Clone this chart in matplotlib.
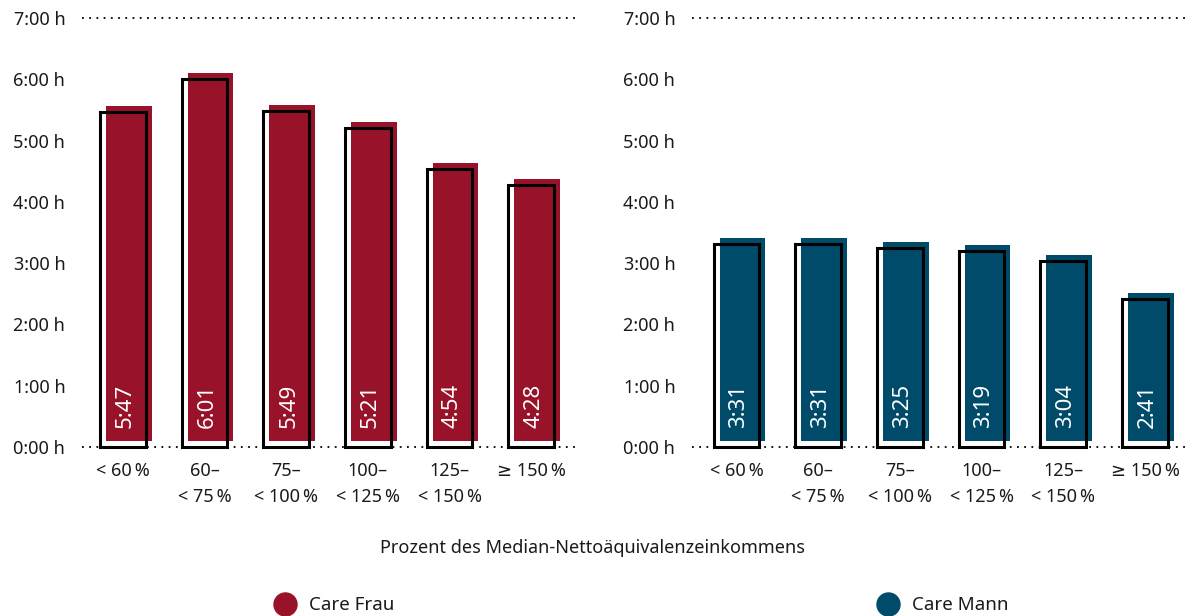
import matplotlib.pyplot as plt

plt.rcParams['font.family'] = ['Noto Sans', 'DejaVu Sans']

# Kategorien (Prozent des Median-Nettoäquivalenzeinkommens)
kategorien = ['< 60\u2009%', '60–\n< 75\u2009%', '75–\n< 100\u2009%',
              '100–\n< 125\u2009%', '125–\n< 150\u2009%', '≥ 150\u2009%']
# Werte wie in der Vorlage (h.mm als Dezimalzahl gezeichnet)
care_frau = [5.47, 6.01, 5.49, 5.21, 4.54, 4.28]
care_mann = [3.31, 3.31, 3.25, 3.19, 3.04, 2.41]
y_ticks = [0, 1, 2, 3, 4, 5, 6, 7]
y_labels = [f'{t}:00 h' for t in y_ticks]

rot = '#981229'
blau = '#004B6A'
textfarbe = '#1a1a1a'

fig = plt.figure(figsize=(11.85, 6.16), dpi=100)
ax1 = fig.add_axes([82/1185, 1 - 447/616, 495/1185, 429/616])
ax2 = fig.add_axes([692/1185, 1 - 447/616, 493/1185, 429/616])

bw = 0.56   # Balkenbreite
dx = 0.073  # Versatz der Füllung nach rechts
dy = 0.098  # Versatz der Füllung nach oben

for ax, werte, farbe, xl in [(ax1, care_frau, rot, (-0.5, 5.56)),
                             (ax2, care_mann, blau, (-0.545, 5.49))]:
    x = range(len(werte))
    ax.bar([i + dx for i in x], werte, width=bw, bottom=dy, color=farbe,
           zorder=2, clip_on=False)
    ax.bar(list(x), werte, width=bw, fill=False, edgecolor='black',
           linewidth=2.2, zorder=3, clip_on=False)
    for i, v in zip(x, werte):
        ax.text(i + 0.03, 0.31, f'{v:.2f}'.replace('.', ':'), rotation=90,
                ha='center', va='bottom', color='white', fontsize=16, zorder=4)
    for yv in (0, 7):
        ax.axhline(yv, color='black', linestyle=(0, (1, 3)), linewidth=1.3,
                   zorder=1, clip_on=False)
    ax.set_xlim(*xl)
    ax.set_ylim(0, 7)
    ax.set_yticks(y_ticks)
    ax.set_yticklabels(y_labels, fontsize=13, color=textfarbe)
    ax.set_xticks(list(x))
    ax.set_xticklabels(kategorien, fontsize=13, color=textfarbe, linespacing=1.55,
                       va='top')
    ax.tick_params(axis='y', length=0, pad=12)
    ax.tick_params(axis='x', length=0, pad=11)
    for s in ax.spines.values():
        s.set_visible(False)
    ax.patch.set_alpha(0)

fig.text(592/1185, 1 - 548/616, 'Prozent des Median-Nettoäquivalenzeinkommens',
         ha='center', va='center', fontsize=13, color=textfarbe)

# Legende
leg = fig.add_axes([0, 0, 1, 1], zorder=-1)
leg.set_xlim(0, 1185)
leg.set_ylim(616, 0)
leg.axis('off')
leg.scatter([285], [604], s=275, color=rot, clip_on=False)
leg.scatter([888], [604], s=275, color=blau, clip_on=False)
fig.text(309/1185, 1 - 605/616, 'Care Frau', color=textfarbe, fontsize=13.5,
         ha='left', va='center')
fig.text(912/1185, 1 - 605/616, 'Care Mann', color=textfarbe, fontsize=13.5,
         ha='left', va='center')

fig.savefig('out.png', dpi=100)
